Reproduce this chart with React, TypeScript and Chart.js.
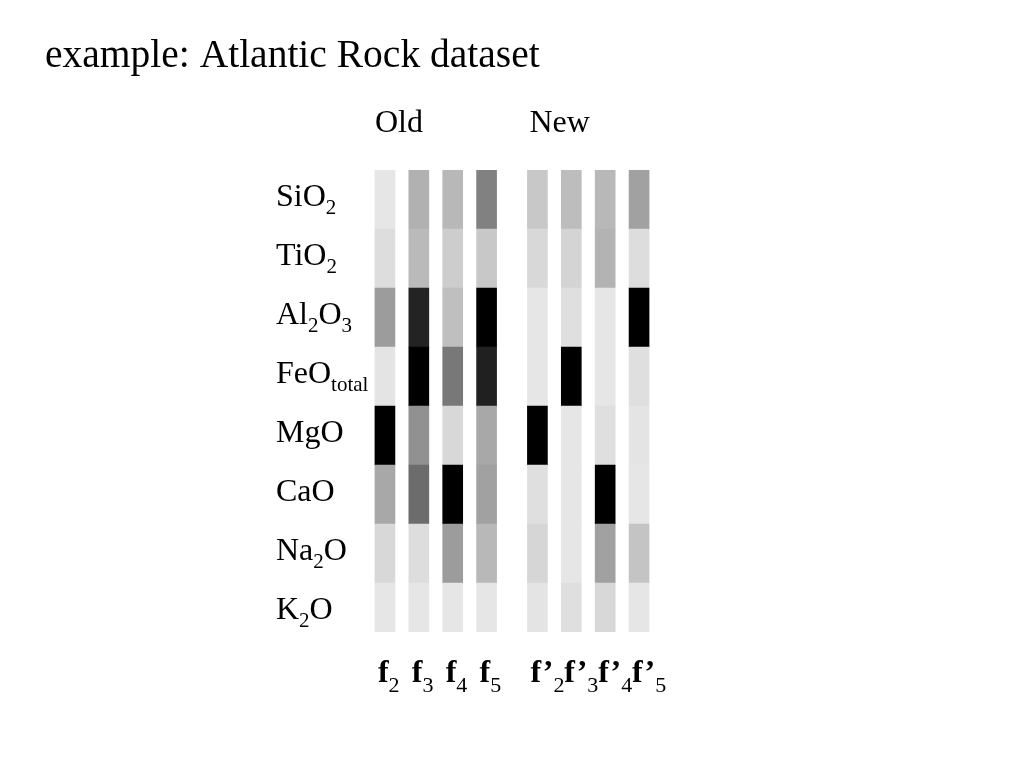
import React, { useEffect, useRef } from "react";
import { Chart, registerables } from "chart.js";

Chart.register(...registerables);

const title = "example: Atlantic Rock dataset";
const groupLabels = ["Old", "New"];
const groupStartColumn = [0, 4];
const rowLabels = ["SiO_2", "TiO_2", "Al_2O_3", "FeO_total", "MgO", "CaO", "Na_2O", "K_2O"];
const columnLabels = ["f_2", "f_3", "f_4", "f_5", "f’_2", "f’_3", "f’_4", "f’_5"];
const columnPositions = [0, 1, 2, 3, 4.5, 5.5, 6.5, 7.5];

// loading magnitude (0 = light, 1 = black), rows in rowLabels order
const f2 = [0, 0.04, 0.32, 0.01, 1, 0.27, 0.06, 0];
const f3 = [0.23, 0.19, 0.85, 1, 0.37, 0.53, 0.04, 0];
const f4 = [0.2, 0.11, 0.17, 0.48, 0.06, 1, 0.32, 0];
const f5 = [0.44, 0.13, 1, 0.86, 0.27, 0.3, 0.2, 0];
const fp2 = [0.13, 0.06, 0, 0, 1, 0.03, 0.07, 0.01];
const fp3 = [0.18, 0.08, 0.03, 1, 0, 0, 0, 0.03];
const fp4 = [0.2, 0.22, 0, 0, 0.03, 1, 0.3, 0.06];
const fp5 = [0.3, 0.04, 1, 0.03, 0.01, 0, 0.15, 0];
const columns = [f2, f3, f4, f5, fp2, fp3, fp4, fp5];

const SERIF = '"Liberation Serif", "Times New Roman", serif';

function grey(v: number) {
  const g = Math.round(230 * (1 - Math.max(0, Math.min(1, v))));
  return `rgb(${g},${g},${g})`;
}

function parseRich(s: string) {
  const parts: { t: string; sub: boolean }[] = [];
  const re = /_([0-9]+|[a-z]+)/g;
  let last = 0;
  let m: RegExpExecArray | null;
  while ((m = re.exec(s))) {
    if (m.index > last) parts.push({ t: s.slice(last, m.index), sub: false });
    parts.push({ t: m[1], sub: true });
    last = m.index + m[0].length;
  }
  if (last < s.length) parts.push({ t: s.slice(last), sub: false });
  return parts;
}

function drawRich(
  ctx: CanvasRenderingContext2D,
  text: string,
  x: number,
  y: number,
  mainFont: string,
  subFont: string,
  subDy: number
) {
  let cx = x;
  for (const p of parseRich(text)) {
    ctx.font = p.sub ? subFont : mainFont;
    ctx.fillText(p.t, cx, p.sub ? y + subDy : y);
    cx += ctx.measureText(p.t).width;
  }
}

const textPlugin = {
  id: "textPlugin",
  afterDraw(chart: any) {
    const ctx: CanvasRenderingContext2D = chart.ctx;
    const xs = chart.scales.x;
    const ys = chart.scales.y;
    ctx.save();
    ctx.fillStyle = "#000";
    ctx.textAlign = "left";
    ctx.textBaseline = "alphabetic";

    ctx.font = `39.5px ${SERIF}`;
    ctx.fillText(title, 45, 67);

    ctx.font = `32px ${SERIF}`;
    groupLabels.forEach((g, i) => {
      const px = xs.getPixelForValue(columnPositions[groupStartColumn[i]]) - 10;
      ctx.fillText(g, px + (i === 0 ? 0 : 2), 132);
    });

    rowLabels.forEach((r, i) => {
      const py = ys.getPixelForValue(i + 0.5) + 6;
      drawRich(ctx, r, 276, py, `32px ${SERIF}`, `21px ${SERIF}`, 8);
    });

    columnLabels.forEach((c, i) => {
      const px = xs.getPixelForValue(columnPositions[i]) - 7;
      drawRich(ctx, c, px, 682, `bold 32px ${SERIF}`, `22px ${SERIF}`, 10);
    });
    ctx.restore();
  },
};

export default function App() {
  const ref = useRef<HTMLCanvasElement | null>(null);
  useEffect(() => {
    if (!ref.current) return;
    const datasets = columns.map((col, c) => ({
      label: columnLabels[c],
      data: col.map((_, r) => ({ x: columnPositions[c], y: [r, r + 1] })),
      backgroundColor: col.map((v) => grey(v)),
      borderWidth: 0,
      barThickness: 20,
      grouped: false,
    }));
    const chart = new Chart(ref.current, {
      type: "bar",
      data: { datasets } as any,
      options: {
        animation: false,
        responsive: false,
        layout: { padding: { left: 368, right: 368, top: 170, bottom: 136 } },
        plugins: { legend: { display: false }, tooltip: { enabled: false }, title: { display: false } },
        scales: {
          x: { type: "linear", min: -0.5, max: 8, offset: false, display: false },
          y: { type: "linear", min: 0, max: 7.83, reverse: true, display: false },
        },
      } as any,
      plugins: [textPlugin],
    });
    return () => chart.destroy();
  }, []);
  return (
    <div style={{ position: "absolute", left: 0, top: 0, width: 1024, height: 768, background: "#fff" }}>
      <canvas ref={ref} width={1024} height={768} style={{ display: "block" }} />
    </div>
  );
}
